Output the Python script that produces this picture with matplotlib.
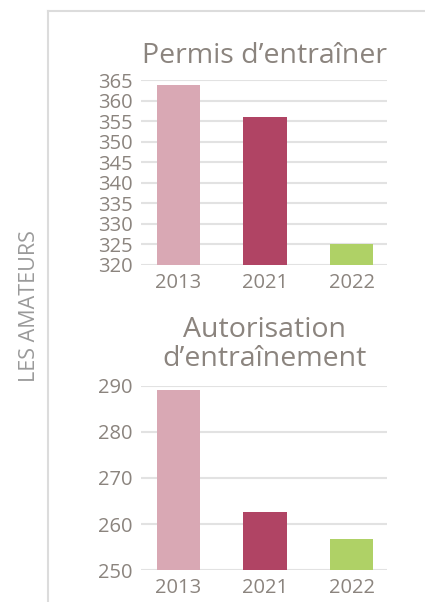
import matplotlib
matplotlib.use('Agg')
import matplotlib.pyplot as plt
from matplotlib.lines import Line2D

plt.rcParams['font.family'] = ['Open Sans', 'DejaVu Sans']

years = ['2013', '2021', '2022']
colors = ['#d9a8b4', '#b04464', '#afd166']

permis_values = [363.8, 356, 325.2]
permis_ticks = [320, 325, 330, 335, 340, 345, 350, 355, 360, 365]

autorisation_values = [289, 262.6, 256.8]
autorisation_ticks = [250, 260, 270, 280, 290]

text_color = '#8b847e'
grid_color = '#e2e2e2'


def draw_panel(ax, values, ticks, title, pad):
    x = range(len(years))
    ax.bar(x, [v - ticks[0] for v in values], bottom=ticks[0], width=0.5,
           color=colors, zorder=3)
    ax.set_xlim(-0.43, 2.41)
    ax.set_ylim(ticks[0], ticks[-1])
    ax.set_yticks(ticks)
    ax.set_xticks(list(x))
    ax.set_xticklabels(years)
    ax.grid(axis='y', color=grid_color, linewidth=1.5, zorder=0)
    ax.tick_params(length=0, labelsize=14.5, labelcolor=text_color, pad=6)
    for s in ax.spines.values():
        s.set_visible(False)
    ax.set_title(title, fontsize=20.5, color=text_color, pad=pad,
                 linespacing=1.05)


fig = plt.figure(figsize=(4.25, 6.02), dpi=100)

ax1 = fig.add_axes([0.332, 0.56, 0.579, 0.307])
draw_panel(ax1, permis_values, permis_ticks, 'Permis d\u2019entra\u00eener', 12)

ax2 = fig.add_axes([0.332, 0.053, 0.579, 0.306])
draw_panel(ax2, autorisation_values, autorisation_ticks,
           'Autorisation\nd\u2019entra\u00eenement', 14)

# frame lines
fig.add_artist(Line2D([48 / 425, 48 / 425], [0, 1 - 11 / 602],
                      color='#dcdcdc', linewidth=1.5))
fig.add_artist(Line2D([48 / 425, 1], [1 - 11 / 602, 1 - 11 / 602],
                      color='#dcdcdc', linewidth=1.5))

fig.text(30 / 425, 1 - 306 / 602, 'LES AMATEURS', rotation=90,
         ha='center', va='center', fontsize=15.5, color='#9a9a9a')

fig.savefig('out.png', dpi=100)
